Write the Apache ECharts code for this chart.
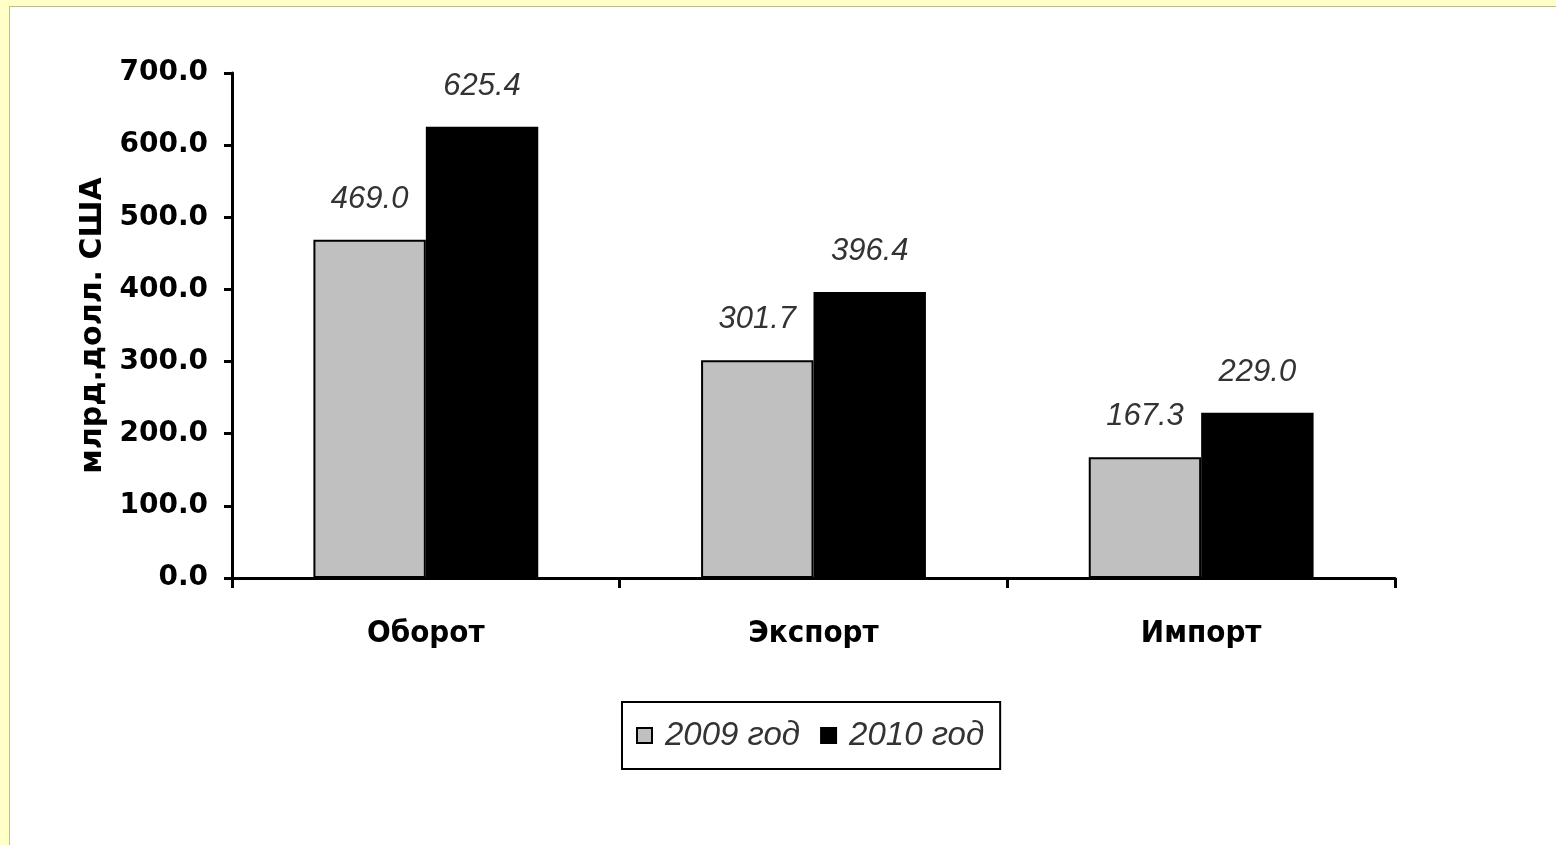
<!DOCTYPE html>
<html>
<head>
<meta charset="utf-8">
<script src="https://cdn.jsdelivr.net/npm/echarts@6/dist/echarts.min.js"></script>
<style>
html,body{margin:0;padding:0;background:#FFFFC8;width:1556px;height:845px;overflow:hidden;}
#panel{position:absolute;left:9px;top:6px;right:0;bottom:0;background:#fff;border-left:1px solid #BDBD90;border-top:1px solid #BDBD90;}
#chart{position:absolute;left:0;top:0;width:1556px;height:845px;}
</style>
</head>
<body>
<div id="panel"></div>
<div id="chart"></div>
<script>
const categories = ['Оборот', 'Экспорт', 'Импорт'];
const seriesNames = ['2009 год', '2010 год'];
const values2009 = [469.0, 301.7, 167.3];
const values2010 = [625.4, 396.4, 229.0];
const yAxisName = 'млрд.долл. США';

const chart = echarts.init(document.getElementById('chart'), null, {renderer: 'canvas'});
const labelStyle = {
  show: true, position: 'top', distance: 25,
  fontFamily: 'Liberation Sans', fontStyle: 'italic', fontSize: 31, color: '#333',
  formatter: p => p.value.toFixed(1)
};
chart.setOption({
  backgroundColor: 'transparent',
  animation: false,
  grid: {left: 232, right: 161, top: 73, bottom: 267},
  legend: {
    left: 622, top: 702,
    padding: [17, 16, 17, 14],
    borderColor: '#000', borderWidth: 2,
    icon: 'rect',
    itemWidth: 15, itemHeight: 15, itemGap: 20,
    data: seriesNames,
    textStyle: {fontFamily: 'Liberation Sans', fontStyle: 'italic', fontSize: 33, color: '#333', padding: [0, 0, 0, 8]}
  },
  xAxis: {
    type: 'category', data: categories,
    axisLine: {lineStyle: {color: '#000', width: 3}},
    axisTick: {show: true, length: 10, lineStyle: {color: '#000', width: 3}},
    axisLabel: {margin: 40, fontFamily: 'DejaVu Sans Condensed', fontWeight: 'bold', fontSize: 31, color: '#000'}
  },
  yAxis: {
    type: 'value', min: 0, max: 700, interval: 100,
    name: yAxisName, nameLocation: 'middle', nameGap: 124, nameRotate: 90,
    nameTextStyle: {fontFamily: 'DejaVu Sans', fontWeight: 'bold', fontSize: 30, color: '#000'},
    axisLine: {show: true, lineStyle: {color: '#000', width: 3}},
    axisTick: {show: true, length: 8, lineStyle: {color: '#000', width: 3}},
    splitLine: {show: false},
    axisLabel: {margin: 24, fontFamily: 'DejaVu Sans', fontWeight: 'bold', fontSize: 28, color: '#000',
      formatter: v => v.toFixed(1)}
  },
  series: [
    {name: seriesNames[0], type: 'bar', data: values2009, barGap: '0%', barCategoryGap: '42%',
     itemStyle: {color: '#C0C0C0', borderColor: '#000', borderWidth: 2}, label: labelStyle},
    {name: seriesNames[1], type: 'bar', data: values2010,
     itemStyle: {color: '#000', borderColor: '#000', borderWidth: 2}, label: labelStyle}
  ]
});
</script>
</body>
</html>
